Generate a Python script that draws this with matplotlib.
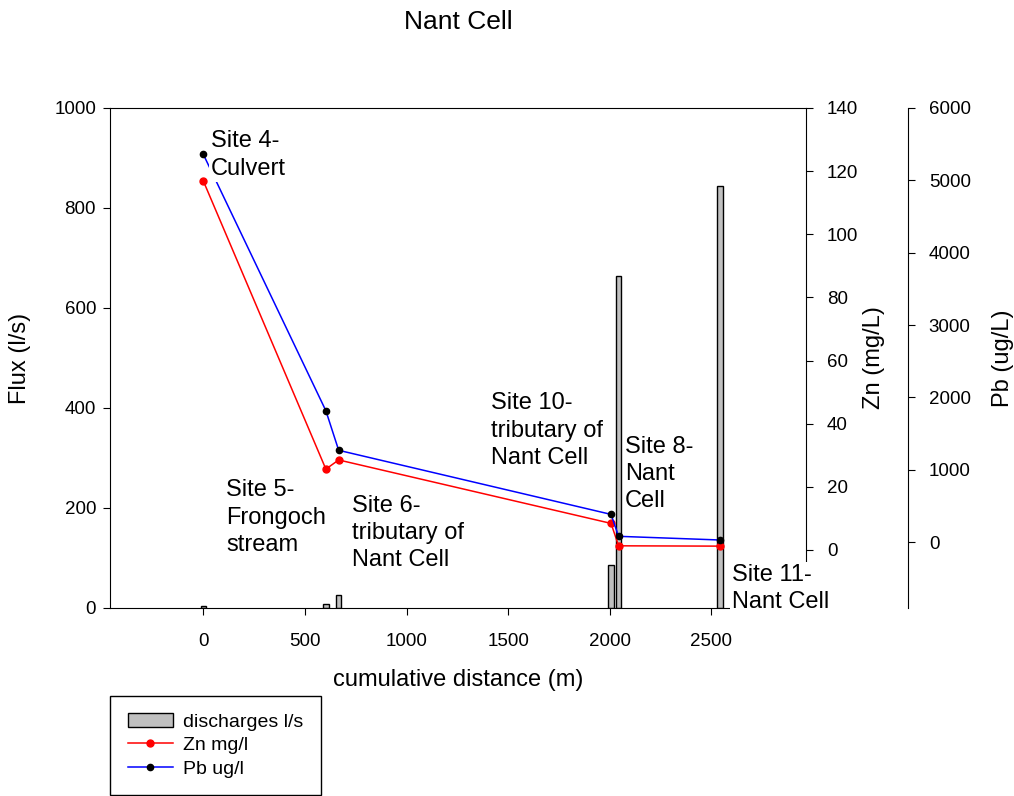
import matplotlib
matplotlib.use('Agg')
import matplotlib.pyplot as plt
from matplotlib.patches import Patch
from matplotlib.lines import Line2D

plt.rcParams['font.family'] = ['Liberation Sans', 'DejaVu Sans']

# cumulative distance along the stream (m)
distance = [0, 603, 666, 2006, 2043, 2542]
discharge = [4, 9, 27, 86, 664, 844]          # l/s
zn = [116.9, 25.6, 28.5, 8.4, 1.3, 1.2]        # mg/L
pb = [5360, 1815, 1268, 382, 79, 28]           # ug/L

site_labels = ['Site 4-\nCulvert', 'Site 5-\nFrongoch\nstream',
               'Site 6-\ntributary of\nNant Cell', 'Site 10-\ntributary of\nNant Cell',
               'Site 8-\nNant\nCell', 'Site 11-\nNant Cell']

fig = plt.figure(figsize=(10.14, 7.96), dpi=100)
ax = fig.add_axes([110/1014, 1 - 608/796, 696/1014, 500/796])
ax2 = ax.twinx()
ax3 = ax.twinx()

tick_fs = 13.5
lab_fs = 17

# discharge bars on the flux axis
ax.bar(distance, discharge, width=26, color='#c0c0c0', edgecolor='black', linewidth=1)
ax.set_xlim(-459, 2965)
ax.set_ylim(0, 1000)
ax.set_xticks([0, 500, 1000, 1500, 2000, 2500])
ax.set_yticks([0, 200, 400, 600, 800, 1000])
ax.spines['right'].set_visible(False)
ax.tick_params(axis='x', direction='out', length=5, pad=13, labelsize=tick_fs)
ax.tick_params(axis='y', direction='out', length=5, pad=5, labelsize=tick_fs)
ax.set_xlabel('cumulative distance (m)', fontsize=lab_fs)
ax.set_ylabel('Flux (l/s)', fontsize=lab_fs)
ax.xaxis.set_label_coords(0.5, -0.122)
ax.yaxis.set_label_coords(-0.1135, 0.5)
ax.set_title('Nant Cell', fontsize=19, pad=57)

# Zn axis
ax2.plot(distance, zn, color='red', lw=1.1, marker='o', ms=5, mfc='red', mec='red')
ax2.set_ylim(-18.4, 140)
ax2.set_yticks([0, 20, 40, 60, 80, 100, 120, 140])
for s in ['left', 'top', 'bottom']:
    ax2.spines[s].set_visible(False)
ax2.tick_params(axis='y', direction='out', length=5, pad=10, labelsize=tick_fs)
ax2.set_ylabel('Zn (mg/L)', fontsize=lab_fs)
ax2.yaxis.set_label_coords(1.082, 0.5)

# Pb axis
ax3.plot(distance, pb, color='blue', lw=1.1, marker='o', ms=4.5, mfc='black', mec='black')
ax3.set_ylim(-912, 6000)
ax3.set_yticks([0, 1000, 2000, 3000, 4000, 5000, 6000])
ax3.spines['right'].set_position(('axes', 1 + 102/696))
for s in ['left', 'top', 'bottom']:
    ax3.spines[s].set_visible(False)
ax3.tick_params(axis='y', direction='out', length=5, pad=10, labelsize=tick_fs)
ax3.set_ylabel('Pb (ug/L)', fontsize=lab_fs)
ax3.yaxis.set_label_coords(1.267, 0.5)

# site labels with white backing, drawn on the top axes
label_xy = [(38, 955), (112, 257), (731, 226), (1415, 431), (2074, 344), (2600, 88)]
for txt, (lx, ly) in zip(site_labels, label_xy):
    ax3.text(lx, ly, txt, transform=ax.transData, fontsize=lab_fs, ha='left', va='top',
             linespacing=1.3, zorder=10, clip_on=False,
             bbox=dict(facecolor='white', edgecolor='none', pad=1.5))

handles = [Patch(facecolor='#c0c0c0', edgecolor='black', linewidth=1),
           Line2D([], [], color='red', lw=1.1, marker='o', ms=5),
           Line2D([], [], color='blue', lw=1.1, marker='o', ms=4.5, mfc='black', mec='black')]
leg = fig.legend(handles, ['discharges l/s', 'Zn mg/l', 'Pb ug/l'],
                 loc='lower left', bbox_to_anchor=(110/1014, 1/796), fontsize=14,
                 frameon=True, fancybox=False, framealpha=1, edgecolor='black',
                 handlelength=2.35, handletextpad=0.5, labelspacing=0.3,
                 borderpad=0.9, borderaxespad=0)
leg.get_frame().set_linewidth(1)

fig.savefig('out.png', dpi=100)
